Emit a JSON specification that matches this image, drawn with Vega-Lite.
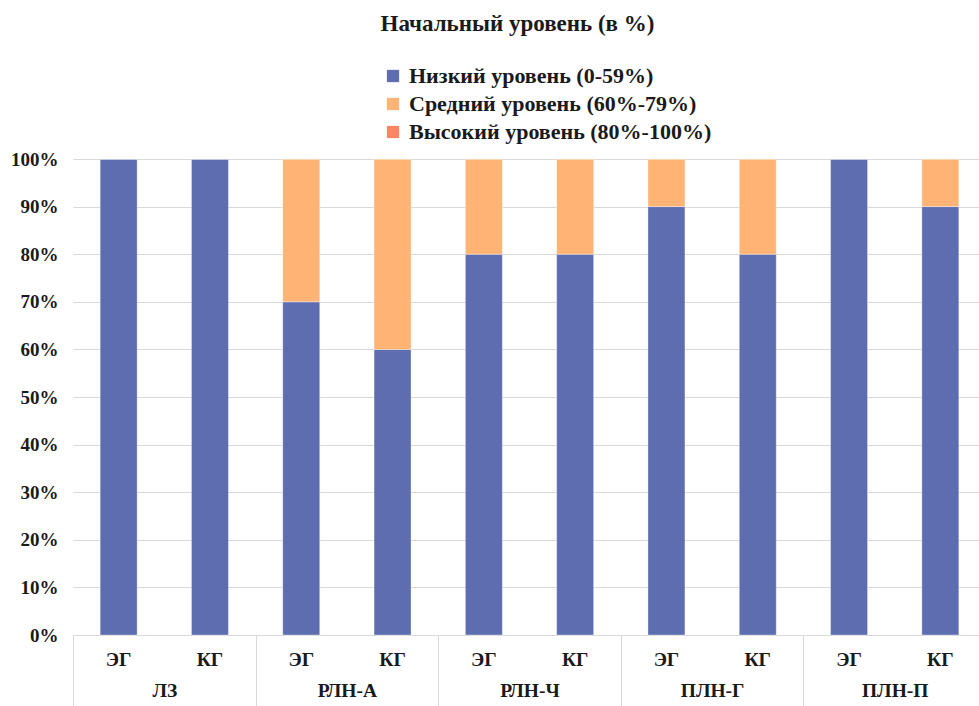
{
  "$schema": "https://vega.github.io/schema/vega-lite/v6.json",
  "width": 913,
  "height": 476,
  "autosize": {"type": "none"},
  "padding": {"left": 73, "top": 159, "right": 0, "bottom": 71},
  "background": "white",
  "title": {
    "text": "Начальный уровень (в %)",
    "font": "Liberation Serif",
    "fontSize": 23,
    "fontWeight": "bold",
    "color": "#1a1a1a",
    "anchor": "middle",
    "dx": -12,
    "offset": 29
  },
  "config": {
    "view": {"stroke": null},
    "font": "Liberation Serif",
    "axis": {
      "labelFont": "Liberation Serif",
      "labelFontWeight": "bold",
      "labelFontSize": 19,
      "labelColor": "#1a1a1a",
      "gridColor": "#d9d9d9",
      "domainColor": "#d9d9d9",
      "tickColor": "#d9d9d9",
      "title": null
    },
    "legend": {
      "labelFont": "Liberation Serif",
      "labelFontWeight": "bold",
      "labelFontSize": 22,
      "labelColor": "#1a1a1a",
      "labelLimit": 0
    }
  },
  "data": {
    "values": [
      {"group": "ЛЗ", "sub": "ЭГ", "key": "ЛЗ|ЭГ", "level": "Низкий уровень (0-59%)", "rank": 1, "value": 100},
      {"group": "ЛЗ", "sub": "ЭГ", "key": "ЛЗ|ЭГ", "level": "Средний уровень (60%-79%)", "rank": 2, "value": 0},
      {"group": "ЛЗ", "sub": "ЭГ", "key": "ЛЗ|ЭГ", "level": "Высокий уровень (80%-100%)", "rank": 3, "value": 0},
      {"group": "ЛЗ", "sub": "КГ", "key": "ЛЗ|КГ", "level": "Низкий уровень (0-59%)", "rank": 1, "value": 100},
      {"group": "ЛЗ", "sub": "КГ", "key": "ЛЗ|КГ", "level": "Средний уровень (60%-79%)", "rank": 2, "value": 0},
      {"group": "ЛЗ", "sub": "КГ", "key": "ЛЗ|КГ", "level": "Высокий уровень (80%-100%)", "rank": 3, "value": 0},
      {"group": "РЛН-А", "sub": "ЭГ", "key": "РЛН-А|ЭГ", "level": "Низкий уровень (0-59%)", "rank": 1, "value": 70},
      {"group": "РЛН-А", "sub": "ЭГ", "key": "РЛН-А|ЭГ", "level": "Средний уровень (60%-79%)", "rank": 2, "value": 30},
      {"group": "РЛН-А", "sub": "ЭГ", "key": "РЛН-А|ЭГ", "level": "Высокий уровень (80%-100%)", "rank": 3, "value": 0},
      {"group": "РЛН-А", "sub": "КГ", "key": "РЛН-А|КГ", "level": "Низкий уровень (0-59%)", "rank": 1, "value": 60},
      {"group": "РЛН-А", "sub": "КГ", "key": "РЛН-А|КГ", "level": "Средний уровень (60%-79%)", "rank": 2, "value": 40},
      {"group": "РЛН-А", "sub": "КГ", "key": "РЛН-А|КГ", "level": "Высокий уровень (80%-100%)", "rank": 3, "value": 0},
      {"group": "РЛН-Ч", "sub": "ЭГ", "key": "РЛН-Ч|ЭГ", "level": "Низкий уровень (0-59%)", "rank": 1, "value": 80},
      {"group": "РЛН-Ч", "sub": "ЭГ", "key": "РЛН-Ч|ЭГ", "level": "Средний уровень (60%-79%)", "rank": 2, "value": 20},
      {"group": "РЛН-Ч", "sub": "ЭГ", "key": "РЛН-Ч|ЭГ", "level": "Высокий уровень (80%-100%)", "rank": 3, "value": 0},
      {"group": "РЛН-Ч", "sub": "КГ", "key": "РЛН-Ч|КГ", "level": "Низкий уровень (0-59%)", "rank": 1, "value": 80},
      {"group": "РЛН-Ч", "sub": "КГ", "key": "РЛН-Ч|КГ", "level": "Средний уровень (60%-79%)", "rank": 2, "value": 20},
      {"group": "РЛН-Ч", "sub": "КГ", "key": "РЛН-Ч|КГ", "level": "Высокий уровень (80%-100%)", "rank": 3, "value": 0},
      {"group": "ПЛН-Г", "sub": "ЭГ", "key": "ПЛН-Г|ЭГ", "level": "Низкий уровень (0-59%)", "rank": 1, "value": 90},
      {"group": "ПЛН-Г", "sub": "ЭГ", "key": "ПЛН-Г|ЭГ", "level": "Средний уровень (60%-79%)", "rank": 2, "value": 10},
      {"group": "ПЛН-Г", "sub": "ЭГ", "key": "ПЛН-Г|ЭГ", "level": "Высокий уровень (80%-100%)", "rank": 3, "value": 0},
      {"group": "ПЛН-Г", "sub": "КГ", "key": "ПЛН-Г|КГ", "level": "Низкий уровень (0-59%)", "rank": 1, "value": 80},
      {"group": "ПЛН-Г", "sub": "КГ", "key": "ПЛН-Г|КГ", "level": "Средний уровень (60%-79%)", "rank": 2, "value": 20},
      {"group": "ПЛН-Г", "sub": "КГ", "key": "ПЛН-Г|КГ", "level": "Высокий уровень (80%-100%)", "rank": 3, "value": 0},
      {"group": "ПЛН-П", "sub": "ЭГ", "key": "ПЛН-П|ЭГ", "level": "Низкий уровень (0-59%)", "rank": 1, "value": 100},
      {"group": "ПЛН-П", "sub": "ЭГ", "key": "ПЛН-П|ЭГ", "level": "Средний уровень (60%-79%)", "rank": 2, "value": 0},
      {"group": "ПЛН-П", "sub": "ЭГ", "key": "ПЛН-П|ЭГ", "level": "Высокий уровень (80%-100%)", "rank": 3, "value": 0},
      {"group": "ПЛН-П", "sub": "КГ", "key": "ПЛН-П|КГ", "level": "Низкий уровень (0-59%)", "rank": 1, "value": 90},
      {"group": "ПЛН-П", "sub": "КГ", "key": "ПЛН-П|КГ", "level": "Средний уровень (60%-79%)", "rank": 2, "value": 10},
      {"group": "ПЛН-П", "sub": "КГ", "key": "ПЛН-П|КГ", "level": "Высокий уровень (80%-100%)", "rank": 3, "value": 0}
    ]
  },
  "layer": [
    {
      "mark": {"type": "bar", "stroke": "#ffffff", "strokeWidth": 0.6, "strokeOpacity": 0.6},
      "encoding": {
        "x": {
          "field": "key",
          "type": "nominal",
          "sort": null,
          "scale": {"paddingInner": 0.595, "paddingOuter": 0.2975},
          "axis": {
            "orient": "bottom",
            "labelExpr": "split(datum.value, '|')[1]",
            "labelAngle": 0,
            "labelFontSize": 19.5,
            "ticks": false,
            "domain": true,
            "labelPadding": 15,
            "labelBaseline": "top",
            "grid": false
          }
        },
        "y": {
          "field": "value",
          "type": "quantitative",
          "stack": "zero",
          "scale": {"domain": [0, 100], "nice": false},
          "axis": {
            "values": [0, 10, 20, 30, 40, 50, 60, 70, 80, 90, 100],
            "labelExpr": "datum.value + '%'",
            "ticks": false,
            "domain": false,
            "grid": true,
            "labelPadding": 15
          }
        },
        "color": {
          "field": "level",
          "type": "nominal",
          "scale": {
            "domain": ["Низкий уровень (0-59%)", "Средний уровень (60%-79%)", "Высокий уровень (80%-100%)"],
            "range": ["#5e6cb0", "#ffb374", "#ff8466"]
          },
          "legend": {
            "title": null,
            "orient": "none",
            "legendX": 309,
            "legendY": -94,
            "symbolType": "square",
            "symbolSize": 150,
            "symbolStrokeWidth": 0,
            "rowPadding": 6,
            "labelOffset": 5
          }
        },
        "order": {"field": "rank", "type": "quantitative"}
      }
    },
    {
      "mark": {"type": "point", "opacity": 0},
      "encoding": {
        "x": {
          "field": "group",
          "type": "nominal",
          "sort": null,
          "scale": {"paddingInner": 0, "paddingOuter": 0},
          "axis": {
            "orient": "bottom",
            "labelAngle": 0,
            "labelFontSize": 19.5,
            "domain": false,
            "ticks": true,
            "tickBand": "extent",
            "tickSize": 80,
            "labelPadding": -34,
            "labelBaseline": "top",
            "grid": false
          }
        },
        "y": {"datum": 0, "type": "quantitative"}
      }
    }
  ],
  "resolve": {"scale": {"x": "independent"}}
}
